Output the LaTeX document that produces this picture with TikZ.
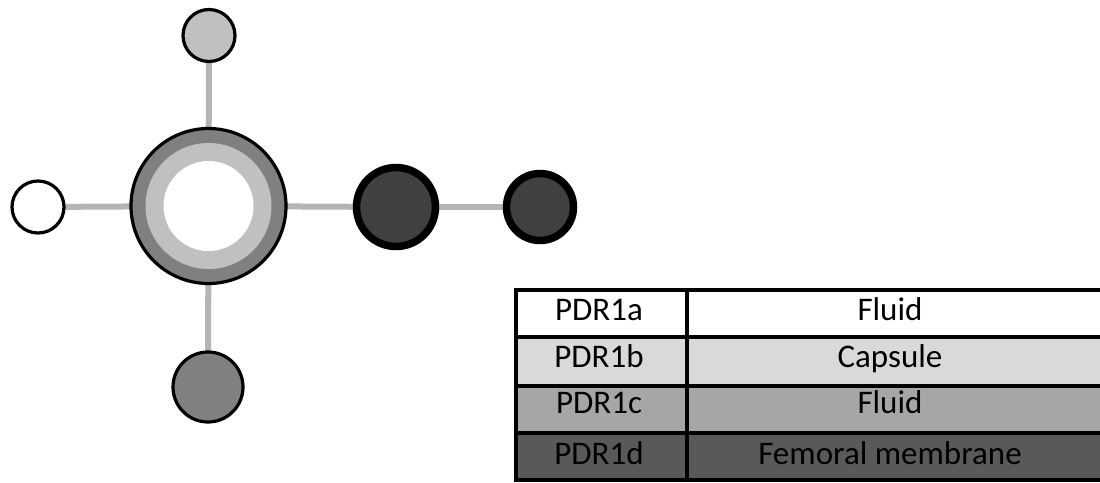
\documentclass[tikz,border=0pt]{standalone}
\usepackage{fontspec}
\setmainfont{Carlito}
\definecolor{conn}{HTML}{B4B4B4}
\definecolor{ringdark}{HTML}{808080}
\definecolor{ringlight}{HTML}{C0C0C0}
\definecolor{dark}{HTML}{404040}
\definecolor{rowb}{HTML}{D9D9D9}
\definecolor{rowc}{HTML}{A6A6A6}
\definecolor{rowd}{HTML}{595959}
\tikzset{
  conn/.style={draw=conn, line width=6pt},
  disk/.style={circle, draw=black, inner sep=0pt, line width=3.2pt},
  thickdisk/.style={circle, draw=black, inner sep=0pt, line width=7.5pt, fill=dark},
  cell/.style={draw=black, line width=3.5pt},
  celltext/.style={font=\fontsize{33}{36}\selectfont, anchor=base, inner sep=0pt},
}
\begin{document}
\begin{tikzpicture}[x=1pt,y=-1pt]
\useasboundingbox (0,0) rectangle (1100,482);
\begin{scope}
\clip (0,0) rectangle (1100,482);
% node positions
\coordinate (hub) at (208.5,206);
\coordinate (top) at (209,35.5);
\coordinate (left) at (38,207);
\coordinate (bottom) at (208,387);
\coordinate (mid) at (396,207);
\coordinate (far) at (540,207);
% connectors
\draw[conn] (hub) -- (top);
\draw[conn] (hub) -- (left);
\draw[conn] (hub) -- (bottom);
\draw[conn] (hub) -- (mid);
\draw[conn] (mid) -- (far);
% nodes
\node[disk, fill=ringdark, minimum size=155pt] (hubnode) at (hub) {};
\fill[ringlight] (hubnode.center) circle (63);
\fill[white] (hubnode.center) circle (45);
\node[disk, fill=ringlight, minimum size=52pt] (topnode) at (top) {};
\node[disk, fill=white, minimum size=52pt] (leftnode) at (left) {};
\node[disk, fill=ringdark, minimum size=70pt] (bottomnode) at (bottom) {};
\node[thickdisk, minimum size=79pt] (midnode) at (mid) {};
\node[thickdisk, minimum size=67pt] (farnode) at (far) {};
% table
\path[cell, fill=white] (516,290) rectangle (687,337);
\path[cell, fill=white] (687,290) rectangle (1110,337);
\path[cell, fill=rowb] (516,337) rectangle (687,386);
\path[cell, fill=rowb] (687,337) rectangle (1110,386);
\path[cell, fill=rowc] (516,386) rectangle (687,433);
\path[cell, fill=rowc] (687,386) rectangle (1110,433);
\path[cell, fill=rowd] (516,433) rectangle (687,480);
\path[cell, fill=rowd] (687,433) rectangle (1110,480);
\node[celltext] (a1) at (599,320) {PDR1a};
\node[celltext] (a2) at (890,320) {Fluid};
\node[celltext] (b1) at (599,367) {PDR1b};
\node[celltext] (b2) at (890,367) {Capsule};
\node[celltext] (c1) at (599,413) {PDR1c};
\node[celltext] (c2) at (890,413) {Fluid};
\node[celltext] (d1) at (599,464) {PDR1d};
\node[celltext] (d2) at (890,464) {Femoral membrane};
\end{scope}
\end{tikzpicture}
\end{document}
